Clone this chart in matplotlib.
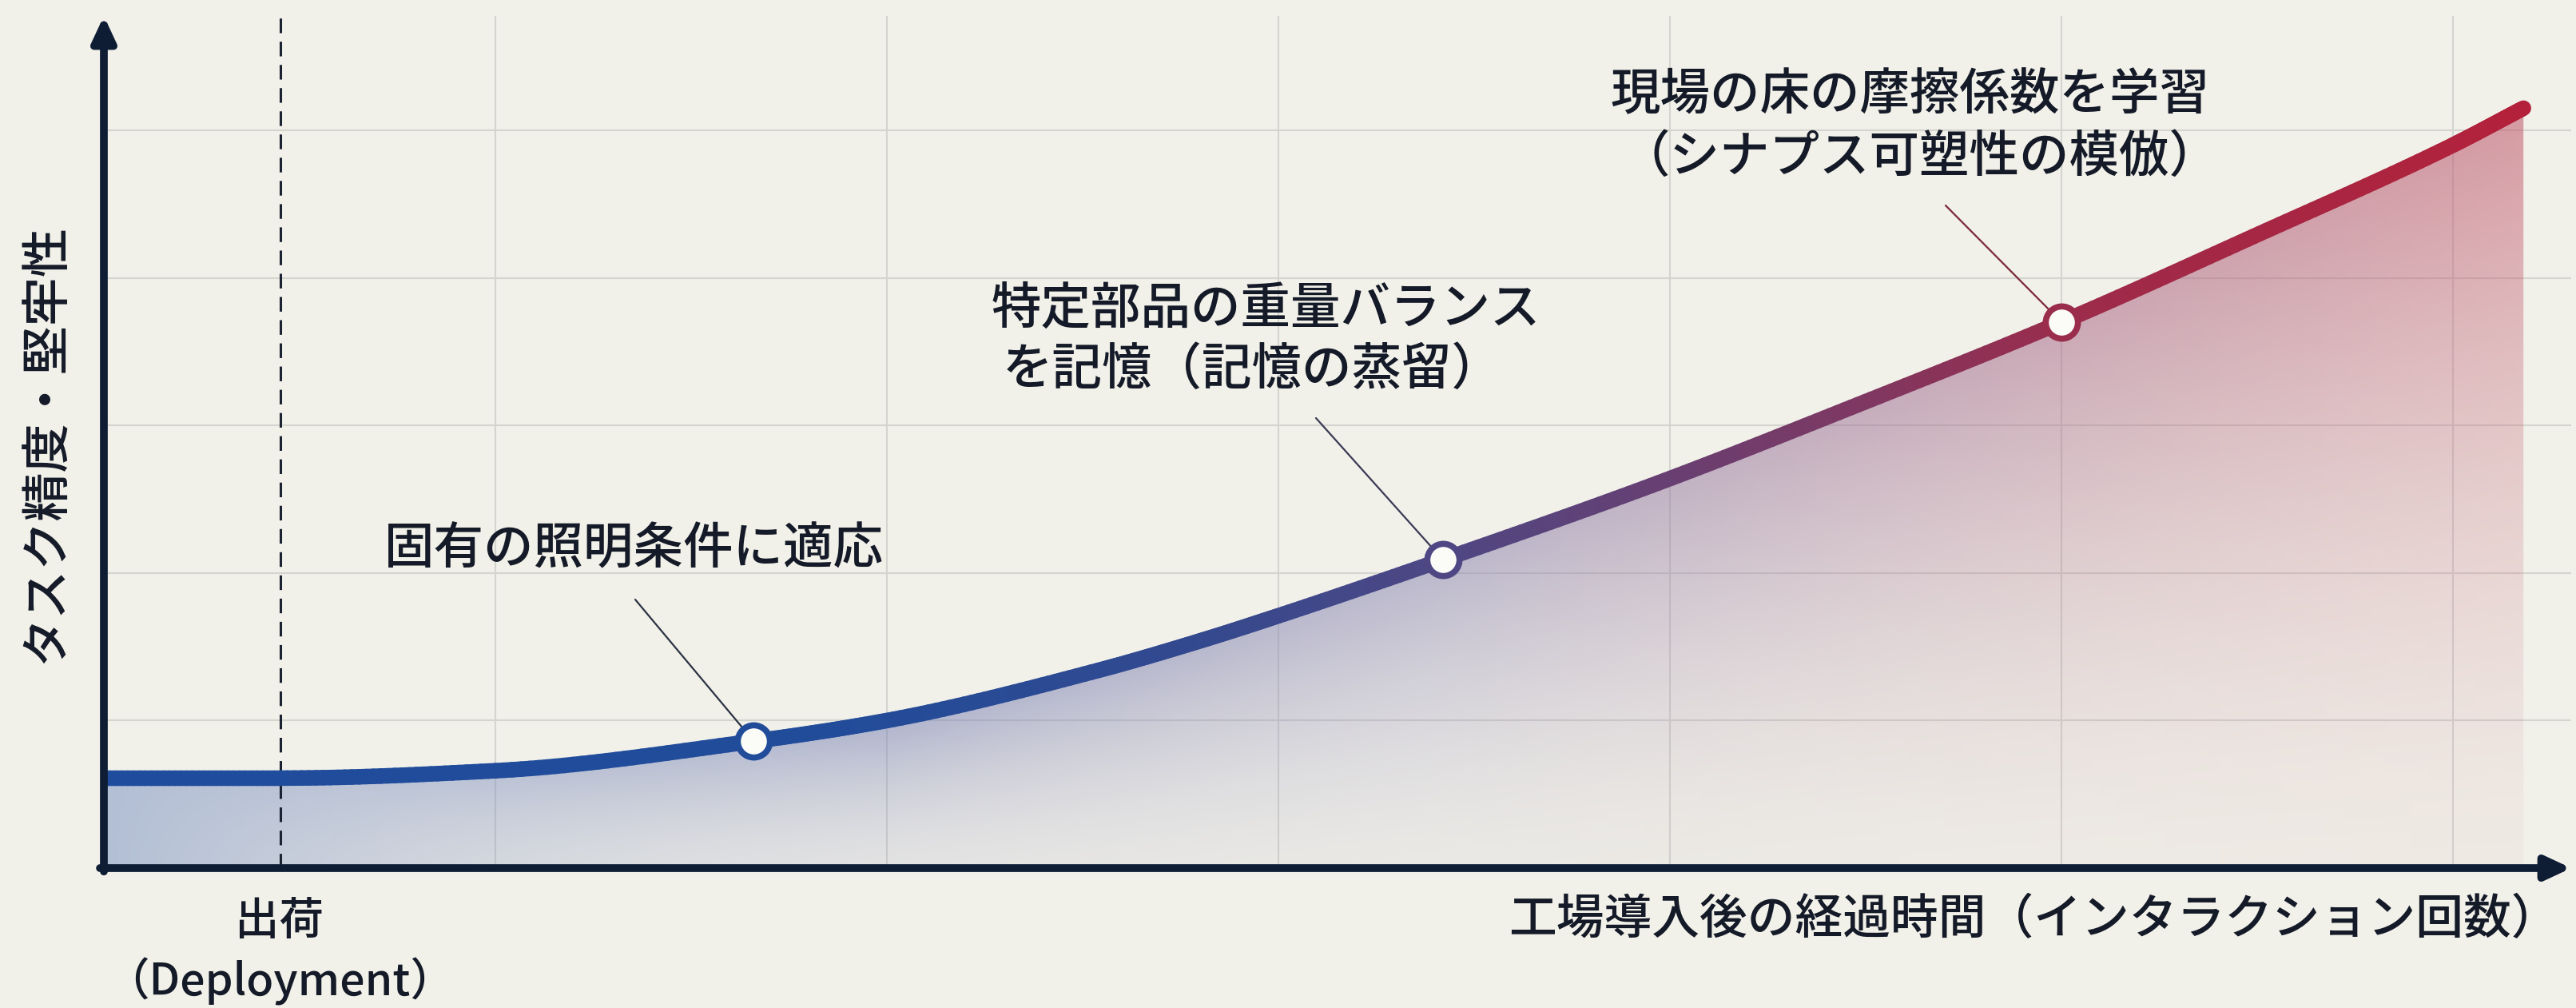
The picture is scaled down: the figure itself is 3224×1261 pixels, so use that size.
import matplotlib
matplotlib.use("Agg")
import matplotlib.pyplot as plt
import numpy as np
from matplotlib.collections import LineCollection
from matplotlib.colors import LinearSegmentedColormap
from matplotlib.patches import Polygon

plt.rcParams['font.family'] = ['Noto Sans CJK JP', 'DejaVu Sans']

# curve (grid units)
curve_x = [0.0, 0.45, 1.0, 1.66, 2.0, 2.54, 2.80, 3.0, 3.42, 3.97, 4.48, 5.0, 5.49, 6.0, 6.18]
curve_y = [0.61, 0.61, 0.66, 0.86, 1.0, 1.34, 1.54, 1.71, 2.09, 2.61, 3.14, 3.70, 4.28, 4.90, 5.15]

# milestones on the curve
marker_x = [1.66, 3.42, 5.0]
marker_y = [0.86, 2.09, 3.70]
marker_labels = ["固有の照明条件に適応",
                 "特定部品の重量バランス\nを記憶（記憶の蒸留）",
                 "現場の床の摩擦係数を学習\n（シナプス可塑性の模倣）"]

deploy_x = 0.45
deploy_label = ["出荷", "（Deployment）"]
x_label = "工場導入後の経過時間（インタラクション回数）"
y_label = "タスク精度・堅牢性"

BG = '#f1f0e9'
NAVY = '#0e1c34'
TXT = '#141a27'
W, H = 3224, 1261


def fx(px):
    return px / W


def fy(py):
    return 1 - py / H


# monotone cubic through the read points, only used to draw a smooth stroke
def smooth(xs, ys, n=30):
    x = np.asarray(xs, float)
    y = np.asarray(ys, float)
    h = np.diff(x)
    d = np.diff(y) / h
    m = np.zeros_like(y)
    m[0], m[-1] = d[0], d[-1]
    for k in range(1, len(x) - 1):
        if d[k - 1] * d[k] > 0:
            w1 = 2 * h[k] + h[k - 1]
            w2 = h[k] + 2 * h[k - 1]
            m[k] = (w1 + w2) / (w1 / d[k - 1] + w2 / d[k])
    ox, oy = [], []
    for k in range(len(x) - 1):
        t = np.linspace(0, 1, n, endpoint=False)
        h00 = 2 * t**3 - 3 * t**2 + 1
        h10 = t**3 - 2 * t**2 + t
        h01 = -2 * t**3 + 3 * t**2
        h11 = t**3 - t**2
        ox.extend(x[k] + t * h[k])
        oy.extend(h00 * y[k] + h10 * h[k] * m[k] + h01 * y[k + 1] + h11 * h[k] * m[k + 1])
    ox.append(x[-1])
    oy.append(y[-1])
    return np.array(ox), np.array(oy)


sx, sy = smooth(curve_x, curve_y)

fig = plt.figure(figsize=(W / 100, H / 100), dpi=100, facecolor=BG)
ax = fig.add_axes([fx(130), fy(1086), (3218 - 130) / W, (1086 - 20) / H])
ax.set_facecolor(BG)
for s in ax.spines.values():
    s.set_visible(False)

# gradient fill under curve
verts = [(0, 0)] + list(zip(sx, sy)) + [(sx[-1], 0)]
clip = Polygon(verts, closed=True, facecolor='none', edgecolor='none')
ax.add_patch(clip)
fill_cmap = LinearSegmentedColormap.from_list('fill', [(0, '#6f8ac0'), (0.55, '#8d88b4'), (1, '#c0576b')])
gx = np.linspace(0, sx[-1], 700)
gy = np.linspace(0, 5.3, 400)
X, Y = np.meshgrid(gx, gy)
cy = np.interp(X, sx, sy)
r = np.clip(Y / cy, 0, 1)
rgba = fill_cmap(X / sx[-1])
base = 0.04 + 0.44 * np.exp(-X / 1.3)
amp = np.clip(X / 2.0, 0, 1) * (0.42 + 0.1 * X / 6.2)
rgba[..., 3] = np.clip(base + amp * r**1.5, 0, 1)
im = ax.imshow(rgba, extent=[0, sx[-1], 0, 5.3], origin='lower', aspect='auto', zorder=1)
im.set_clip_path(clip)

# curve with colour running blue -> crimson
line_cmap = LinearSegmentedColormap.from_list('line', [(0, '#1f4c9c'), (0.3, '#214c9a'), (0.45, '#33498f'),
                                                       (0.55, '#4d4784'), (0.72, '#7c3964'),
                                                       (0.82, '#9d2b4a'), (1, '#b3213b')])
pts = np.column_stack([sx, sy])
segs = np.stack([pts[:-1], pts[1:]], axis=1)
lc = LineCollection(segs, colors=line_cmap(sx[:-1] / sx[-1]), linewidths=14,
                    capstyle='round', zorder=4)
ax.add_collection(lc)

# deployment marker
ax.axvline(deploy_x, color='#1b2232', lw=2.2, dashes=(6, 3.5), zorder=3)

# milestones
edge_cols = [line_cmap(x / curve_x[-1]) for x in marker_x]
for x, y, ec in zip(marker_x, marker_y, edge_cols):
    ax.plot(x, y, 'o', ms=29, mfc='#fbfbf7', mec=ec, mew=5.5, zorder=6)

# annotation texts and leader lines (pixel layout)
text_lines = [[(793, 688)], [(1584, 387), (1567, 463)], [(2390, 120), (2402, 197)]]
leader_start = [(795, 750), (1647, 523), (2435, 257)]
leader_cols = ['#2c3344', '#3a3a55', '#7a2a38']
for lab, pos, ls, lcol, x, y in zip(marker_labels, text_lines, leader_start, leader_cols, marker_x, marker_y):
    for txt, (tx, ty) in zip(lab.split('\n'), pos):
        fig.text(fx(tx), fy(ty), txt, ha='center', va='center', fontsize=45, color=TXT, fontweight='medium')
    ax.annotate('', xy=(x, y), xytext=(fx(ls[0]), fy(ls[1])), textcoords='figure fraction',
                arrowprops=dict(arrowstyle='-', color=lcol, lw=1.6, shrinkA=0, shrinkB=16), zorder=5)

# grid
ax.set_xticks(range(1, 7))
ax.set_yticks(range(1, 6))
ax.tick_params(length=0, labelbottom=False, labelleft=False)
ax.grid(color='#d5d5d0', lw=1.5, zorder=0)
ax.set_axisbelow(True)
ax.set_xlim(0, (3218 - 130) / 490)
ax.set_ylim(0, (1086 - 20) / 184.6)

# axis arrows
arrow = dict(arrowstyle='-|>,head_length=0.75,head_width=0.35', mutation_scale=25, lw=7,
             color=NAVY, shrinkA=0, shrinkB=0)
ax.annotate('', xy=(0, 1), xytext=(0, -0.004), xycoords='axes fraction', arrowprops=arrow, zorder=7)
ax.annotate('', xy=(1, 0), xytext=(-0.0016, 0), xycoords='axes fraction', arrowprops=arrow, zorder=7)

# axis labels
fig.text(fx(58), fy(555), y_label, rotation=90, ha='center', va='center', fontsize=44, color=TXT,
         fontweight='medium')
fig.text(fx(3203), fy(1151), x_label, ha='right', va='center', fontsize=43, color=TXT, fontweight='medium')
fig.text(fx(350), fy(1153), deploy_label[0], ha='center', va='center', fontsize=40, color=TXT,
         fontweight='medium')
fig.text(fx(350), fy(1228), deploy_label[1], ha='center', va='center', fontsize=40, color=TXT,
         fontweight='medium')

fig.savefig('out.png', dpi=100, facecolor=BG)
